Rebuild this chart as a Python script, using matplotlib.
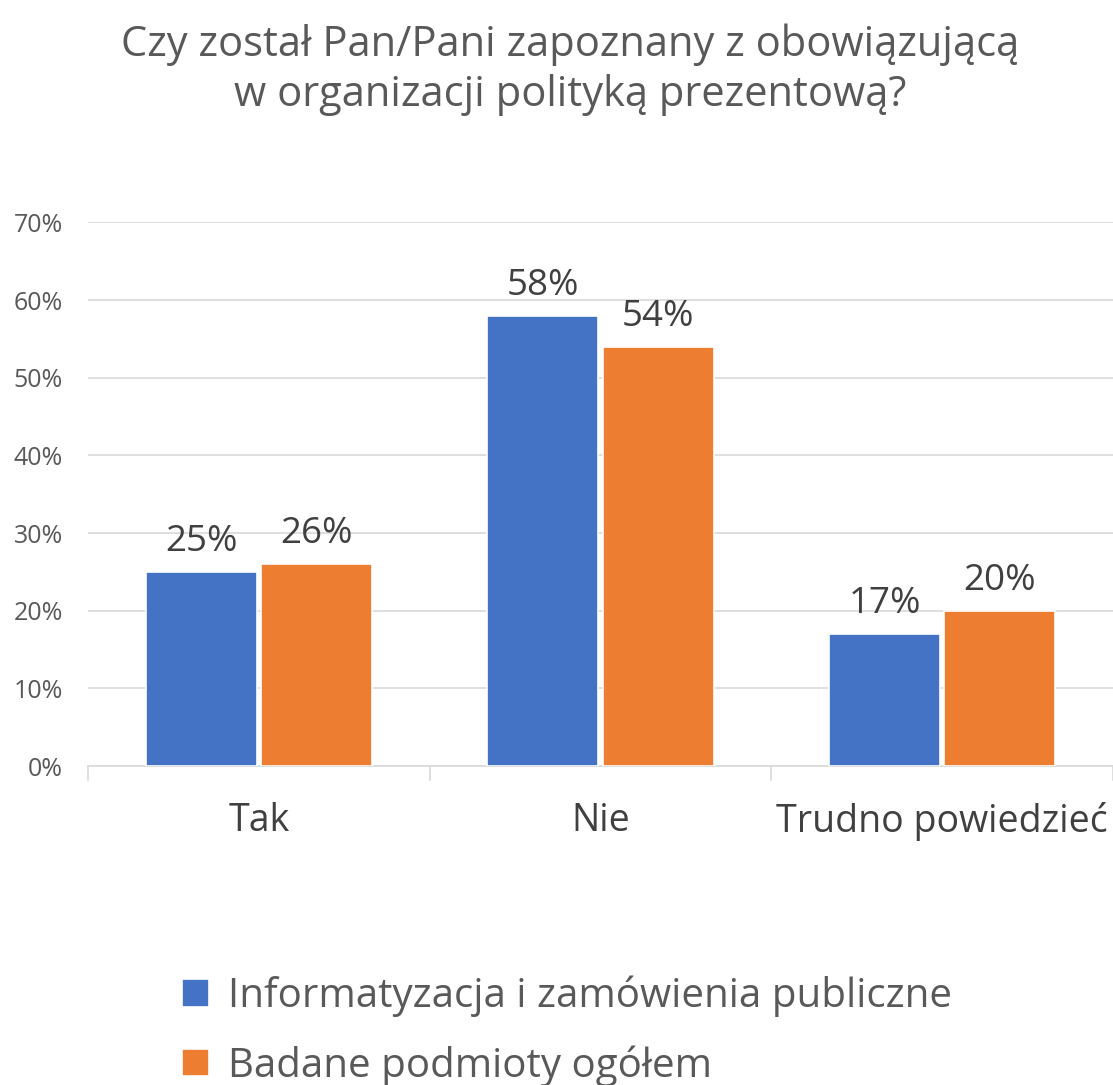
import matplotlib
matplotlib.use("Agg")
import matplotlib.pyplot as plt
import numpy as np

kategorie = ["Tak", "Nie", "Trudno powiedzieć"]
seria_nazwy = ["Informatyzacja i zamówienia publiczne", "Badane podmioty ogółem"]
informatyzacja = [25, 58, 17]
ogolem = [26, 54, 20]
kolory = ["#4472C4", "#ED7D31"]
tytul = "Czy został Pan/Pani zapoznany z obowiązującą\nw organizacji polityką prezentową?"

plt.rcParams["font.family"] = ["Open Sans", "DejaVu Sans"]
szary = "#595959"

fig = plt.figure(figsize=(11.13, 10.85), dpi=100)
ax = fig.add_axes([0.079, 0.294, 0.921, 0.501])

x = np.arange(len(kategorie))
w = 0.325
b1 = ax.bar(x - w / 2 - 0.006, informatyzacja, w, color=kolory[0], edgecolor="white",
            linewidth=1.2, label=seria_nazwy[0], zorder=3)
b2 = ax.bar(x + w / 2 + 0.006, ogolem, w, color=kolory[1], edgecolor="white",
            linewidth=1.2, label=seria_nazwy[1], zorder=3)

for bars, vals in ((b1, informatyzacja), (b2, ogolem)):
    for r, v in zip(bars, vals):
        ax.text(r.get_x() + r.get_width() / 2, v + 1.5, f"{v}%", ha="center",
                va="bottom", fontsize=26.5, color="#404040")

ax.set_xlim(-0.5, 2.5)
ax.set_ylim(0, 70)
ax.set_yticks(range(0, 71, 10))
ax.set_yticklabels([f"{t}%" for t in range(0, 71, 10)], fontsize=18, color=szary)
ax.grid(axis="y", color="#D9D9D9", linewidth=1.2, zorder=0)
ax.set_xticks(x)
ax.set_xticklabels(kategorie, fontsize=27, color="#404040")
ax.tick_params(axis="y", length=0, pad=18)
ax.tick_params(axis="x", length=0, pad=26)
for s in ("top", "right", "left"):
    ax.spines[s].set_visible(False)
ax.spines["bottom"].set_color("#D9D9D9")
ax.spines["bottom"].set_linewidth(1.2)
for xs in (-0.5, 0.5, 1.5, 2.5):
    ax.plot([xs, xs], [0, -1.8], color="#D9D9D9", lw=1.2, clip_on=False)

fig.text(0.512, 0.978, tytul, ha="center", va="top", fontsize=30, color=szary,
         linespacing=1.25)

fig.legend(handles=[b1, b2], labels=seria_nazwy, loc="lower left",
           bbox_to_anchor=(0.131, -0.035), frameon=False, fontsize=29,
           handlelength=0.68, handleheight=0.68, handletextpad=0.45,
           labelspacing=0.7, labelcolor=szary)

fig.savefig("out.png", dpi=100, facecolor="white")
